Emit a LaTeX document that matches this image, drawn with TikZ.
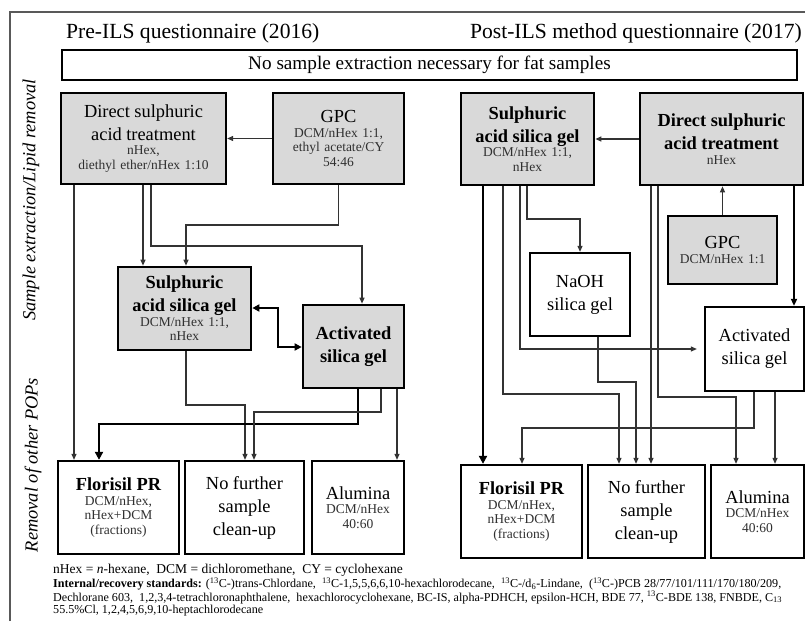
\documentclass[tikz,border=0pt]{standalone}
\usepackage{fontspec}
\setmainfont{Liberation Serif}
\usetikzlibrary{arrows.meta}
\setlength{\parindent}{0pt}
\setlength{\parskip}{0pt}
\newcommand\fsL{\fontsize{18.4}{23}\selectfont}
\newcommand\fsS{\fontsize{13.5}{14.5}\selectfont}
\definecolor{boxgray}{HTML}{D9D9D9}
\definecolor{linegray}{HTML}{333333}
\definecolor{framegray}{HTML}{595959}
\definecolor{subgray}{HTML}{303030}
\begin{document}
\begin{tikzpicture}[x=1pt,y=-1pt,
  box/.style={draw=black, line width=2.3pt, fill=white, inner sep=0pt, align=center, font=\fsS},
  gbox/.style={box, fill=boxgray},
  con/.style={draw=linegray, line width=1.1pt, -{Triangle[length=6pt,width=5pt]}},
  mcon/.style={draw=black, line width=1.9pt, -{Triangle[length=7pt,width=6pt]}},
  tcon/.style={draw=black, line width=2.8pt, -{Triangle[length=8pt,width=8pt]}},
  dcon/.style={draw=black, line width=2.3pt, {Triangle[length=7pt,width=7pt]}-{Triangle[length=7pt,width=7pt]}},
  title/.style={font=\fontsize{21.6}{24}\selectfont, inner sep=0pt},
  side/.style={font=\fontsize{18.4}{22}\selectfont\itshape, inner sep=0pt, rotate=90},
  foot/.style={inner sep=0pt, anchor=west}
]
\useasboundingbox (0,0) rectangle (805,621);
\draw[framegray, line width=1.5pt] (10,621) -- (10,12) -- (805,12);

% titles
\node[title, anchor=west] (t1) at (66,33) {Pre-ILS questionnaire (2016)};
\node[title, anchor=east] (t2) at (802,33) {Post-ILS method questionnaire (2017)};

% banner
\node[box, line width=2pt, minimum width=735pt, minimum height=30pt, font=\fontsize{19.2}{22}\selectfont] (ban) at (429.5,65) {No sample extraction necessary for fat samples};

% side labels
\node[side] (s1) at (31,200) {Sample extraction/Lipid removal};
\node[side] (s2) at (33,465) {Removal of other POPs};

% ---------- left panel ----------
\node[gbox, minimum width=165pt, minimum height=91pt, text width=160pt] (dA) at (143.5,138.5)
  {{\fsL Direct sulphuric\par acid treatment\par}{\color{subgray}\fsS nHex,\par diethyl ether/nHex 1:10\par}};
\node[gbox, minimum width=131pt, minimum height=91pt, text width=126pt] (gA) at (338.5,138.5)
  {{\fsL GPC\par}{\color{subgray}\fsS DCM/nHex 1:1,\par ethyl acetate/CY\par 54:46\par}};
\node[gbox, line width=2.7pt, minimum width=133pt, minimum height=83pt, text width=128pt] (sA) at (184.5,308.5)
  {{\fsL\bfseries Sulphuric\par acid silica gel\par}{\color{subgray}\fsS DCM/nHex 1:1,\par nHex\par}};
\node[gbox, line width=2.7pt, minimum width=101pt, minimum height=83pt, text width=96pt] (aA) at (353.5,346.5)
  {{\fsL\bfseries Activated\par silica gel\par}};
\node[box, minimum width=121pt, minimum height=93pt, text width=116pt] (fA) at (118.5,507.5)
  {{\fsL\bfseries Florisil PR\par}{\color{subgray}\fsS DCM/nHex,\par nHex+DCM\par (fractions)\par}};
\node[box, minimum width=119pt, minimum height=93pt, text width=114pt] (nA) at (244.5,507.5)
  {{\fsL No further\par sample\par clean-up\par}};
\node[box, minimum width=92pt, minimum height=93pt, text width=88pt] (lA) at (358,507.5)
  {{\fsL Alumina\par}{\color{subgray}\fsS DCM/nHex\par 40:60\par}};

% left connectors
\draw[con] (gA.west) -- (dA.east);
\draw[con] (dA.south -| 74,0) -- (fA.north -| 74,0);
\draw[con] (dA.south -| 143,0) -- (sA.north -| 143,0);
\draw[con] (dA.south -| 151,0) |- (362,246) -- (aA.north -| 362,0);
\draw[con] (gA.south) |- (186,225) -- (sA.north -| 186,0);
\draw[dcon] (sA.east |- 0,308) -| (278,347) -- (aA.west |- 0,347);
\draw[con] (sA.south -| 186,0) |- (245,405) -- (nA.north -| 245,0);
\draw[tcon] (aA.south -| 358,0) |- (99,424) -- (fA.north -| 99,0);
\draw[con] (aA.south -| 381,0) |- (254,412) -- (nA.north -| 254,0);
\draw[con] (aA.south -| 397,0) -- (lA.north -| 397,0);

% ---------- right panel ----------
\node[gbox, line width=2.7pt, minimum width=133pt, minimum height=92pt, text width=128pt] (sB) at (527.5,139)
  {{\fsL\bfseries Sulphuric\par acid silica gel\par}{\color{subgray}\fsS DCM/nHex 1:1,\par nHex\par}};
\node[gbox, line width=2.7pt, minimum width=163pt, minimum height=92pt, text width=158pt] (dB) at (721.5,139)
  {{\fsL\bfseries Direct sulphuric\par acid treatment\par}{\color{subgray}\fsS nHex\par}};
\node[gbox, minimum width=109pt, minimum height=68pt, text width=104pt] (gB) at (722.5,250)
  {{\fsL GPC\par}{\color{subgray}\fsS DCM/nHex 1:1\par}};
\node[box, minimum width=100pt, minimum height=83pt, text width=95pt] (naB) at (580,294.5)
  {{\fsL NaOH\par silica gel\par}};
\node[box, minimum width=99pt, minimum height=84pt, text width=94pt] (aB) at (754.5,349)
  {{\fsL Activated\par silica gel\par}};
\node[box, minimum width=121pt, minimum height=93pt, text width=116pt] (fB) at (521.5,511.5)
  {{\fsL\bfseries Florisil PR\par}{\color{subgray}\fsS DCM/nHex,\par nHex+DCM\par (fractions)\par}};
\node[box, minimum width=117pt, minimum height=93pt, text width=112pt] (nB) at (646.5,511.5)
  {{\fsL No further\par sample\par clean-up\par}};
\node[box, minimum width=93pt, minimum height=93pt, text width=89pt] (lB) at (757.5,511.5)
  {{\fsL Alumina\par}{\color{subgray}\fsS DCM/nHex\par 40:60\par}};

% right connectors
\draw[con] (dB.west) -- (sB.east);
\draw[con] (gB.north) -- (gB.north |- dB.south);
\draw[tcon] (sB.south -| 483,0) -- (fB.north -| 483,0);
\draw[con] (sB.south -| 503,0) |- (619,394) -- (nB.north -| 619,0);
\draw[con, shorten >=7pt] (sB.south -| 520,0) |- (aB.west);
\draw[con] (sB.south -| 527,0) |- (580,219) -- (naB.north);
\draw[con] (naB.south -| 598,0) |- (636,382) -- (nB.north -| 636,0);
\draw[con] (dB.south -| 651,0) -- (nB.north -| 651,0);
\draw[con] (dB.south -| 658,0) |- (736,397) -- (lB.north -| 736,0);
\draw[mcon] (dB.south -| 794,0) -- (aB.north -| 794,0);
\draw[con] (aB.south -| 754,0) |- (522,428) -- (fB.north -| 522,0);
\draw[con] (aB.south -| 775,0) -- (lB.north -| 775,0);

% footnotes
\node[foot, font=\fontsize{13.5}{15}\selectfont] (fn1) at (53,570)
  {nHex = \textit{n}-hexane,\ \ DCM = dichloromethane,\ \ CY = cyclohexane};
\node[foot, font=\fontsize{12.1}{13}\selectfont] (fn2) at (53,584)
  {\textbf{Internal/recovery standards:} (\textsuperscript{13}C-)trans-Chlordane,\ \ \textsuperscript{13}C-1,5,5,6,6,10-hexachlorodecane,\ \ \textsuperscript{13}C-/d\textsubscript{6}-Lindane,\ \ (\textsuperscript{13}C-)PCB 28/77/101/111/170/180/209,};
\node[foot, font=\fontsize{12.1}{13}\selectfont] (fn3) at (53,597.5)
  {Dechlorane 603,\ \ 1,2,3,4-tetrachloronaphthalene,\ \ hexachlorocyclohexane,\ BC-IS,\ alpha-PDHCH,\ epsilon-HCH,\ BDE 77,\ \textsuperscript{13}C-BDE 138,\ FNBDE,\ C\textsubscript{13}};
\node[foot, font=\fontsize{12.1}{13}\selectfont] (fn4) at (53,611)
  {55.5\%Cl,\ 1,2,4,5,6,9,10-heptachlorodecane};
\end{tikzpicture}
\end{document}
